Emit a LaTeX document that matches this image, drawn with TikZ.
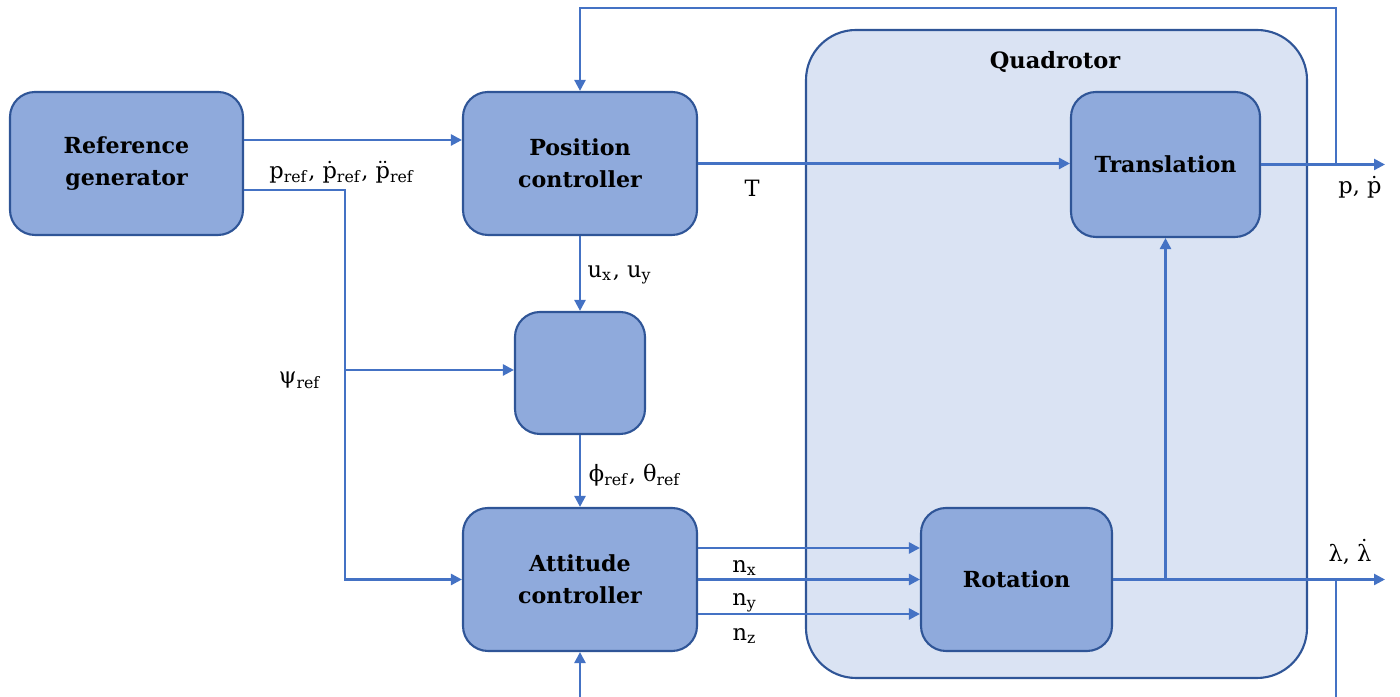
\documentclass[tikz,border=0pt]{standalone}
\usepackage{amsmath}
\usepackage{fontspec}
\setmainfont{DejaVu Serif}
\usetikzlibrary{arrows.meta}
\definecolor{linecol}{HTML}{4472C4}
\definecolor{boxfill}{HTML}{8FAADC}
\definecolor{boxline}{HTML}{2F5597}
\definecolor{quadfill}{HTML}{DAE3F3}
\newcommand{\dt}[1]{$\dot{\text{#1}}$}
\newcommand{\ddt}[1]{$\ddot{\text{#1}}$}
\begin{document}
\begin{tikzpicture}[
	block/.style={draw=boxline, fill=boxfill, line width=0.6pt, rounded corners=0.25cm,
		align=center, font=\fontsize{6.3}{9}\selectfont\bfseries, inner sep=0pt},
	flow/.style={draw=linecol, line width=0.7pt, -{Triangle[length=1.1mm, width=1.1mm]}},
	lbl/.style={font=\fontsize{6.4}{8}\selectfont, inner sep=0pt}
	]
	\useasboundingbox (0,0) rectangle (14,-6.97);
	%plant
	\node[draw=boxline, fill=quadfill, line width=0.6pt, rounded corners=0.5cm,
		minimum width=5.01cm, minimum height=6.48cm] (quad) at (10.565,-3.54) {};
	\node[lbl, font=\fontsize{6.4}{8}\selectfont\bfseries] (quadname) at (10.55,-0.62) {Quadrotor};
	
	%blocks
	\node[block, minimum width=2.33cm, minimum height=1.43cm] (refgen) at (1.265,-1.635) {Reference\\generator};
	\node[block, minimum width=2.34cm, minimum height=1.43cm] (posctrl) at (5.80,-1.635) {Position\\controller};
	\node[block, minimum width=1.30cm, minimum height=1.22cm] (conv) at (5.80,-3.73) {};
	\node[block, minimum width=2.34cm, minimum height=1.43cm] (attctrl) at (5.80,-5.795) {Attitude\\controller};
	\node[block, minimum width=1.89cm, minimum height=1.45cm] (trans) at (11.655,-1.645) {Translation};
	\node[block, minimum width=1.91cm, minimum height=1.43cm] (rot) at (10.165,-5.795) {Rotation};
	
	%helper points
	\coordinate (split) at (3.45,-3.70);
	\coordinate (pout) at (13.85,-1.645);
	\coordinate (ptap) at (13.36,-1.645);
	\coordinate (top) at (5.80,-0.08);
	\coordinate (lout) at (13.85,-5.795);
	\coordinate (ltap) at (13.36,-5.795);
	\coordinate (lbranch) at (11.655,-5.795);
	\coordinate (bottom) at (13.36,-7.0);
	
	%references
	\draw[flow] ([yshift=2.35mm]refgen.east) -- ([yshift=2.35mm]posctrl.west);
	\draw[flow] ([yshift=-2.65mm]refgen.east) -| (split) |- (attctrl.west);
	\draw[flow] (split) -- (split -| conv.west);
	\draw[flow] (posctrl.south) -- (conv.north);
	\draw[flow] (conv.south) -- (attctrl.north);
	
	%thrust and torques
	\draw[flow] (posctrl.east) -- (posctrl.east -| trans.west);
	\foreach \dy in {3.15mm, 0mm, -3.45mm}{
		\draw[flow] ([yshift=\dy]attctrl.east) -- ([yshift=\dy]attctrl.east -| rot.west);
	}
	
	%outputs and feedback
	\draw[flow] (trans.east |- pout) -- (pout);
	\draw[flow] (ptap) |- (top) -- (posctrl.north);
	\draw[flow] (rot.east |- lout) -- (lout);
	\draw[flow] (lbranch) -- (trans.south);
	\draw[flow] (ltap) -- (bottom) -| (attctrl.south);
	
	%labels
	\node[lbl] (lpref) at (3.42,-1.72) {p\textsubscript{ref}, \dt{p}\textsubscript{ref}, \ddt{p}\textsubscript{ref}};
	\node[lbl] (lpsi) at (3.00,-3.80) {ψ\textsubscript{ref}};
	\node[lbl] (lu) at (6.20,-2.75) {u\textsubscript{x}, u\textsubscript{y}};
	\node[lbl] (lphi) at (6.35,-4.75) {ϕ\textsubscript{ref}, θ\textsubscript{ref}};
	\node[lbl] (lT) at (7.52,-1.88) {T};
	\node[lbl] (lp) at (13.60,-1.87) {p, \dt{p}};
	\node[lbl] (llam) at (13.50,-5.52) {λ, \dt{λ}};
	\node[lbl] (lnx) at (7.45,-5.68) {n\textsubscript{x}};
	\node[lbl] (lny) at (7.45,-6.03) {n\textsubscript{y}};
	\node[lbl] (lnz) at (7.45,-6.36) {n\textsubscript{z}};
\end{tikzpicture}
\end{document}
